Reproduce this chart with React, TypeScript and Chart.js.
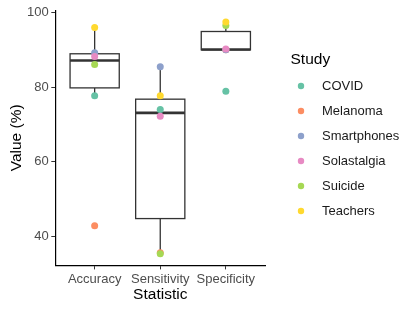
import React, { useEffect, useRef } from 'react';
import { Chart, registerables } from 'chart.js';

Chart.register(...registerables);

const FONT = '"Liberation Sans", Arial, Helvetica, sans-serif';

const categories = ['Accuracy', 'Sensitivity', 'Specificity'];
const studies = ['COVID', 'Melanoma', 'Smartphones', 'Solastalgia', 'Suicide', 'Teachers'];
// values per study, in the order of `categories`
const covid = [77.7, 74.0, 78.9];
const melanoma = [42.8, 35.6, 90.0];
const smartphones = [89.2, 85.5, 90.0];
const solastalgia = [88.2, 72.2, 90.2];
const suicide = [86.1, 35.3, 96.5];
const teachers = [96.0, 77.7, 97.5];
const studyValues = [covid, melanoma, smartphones, solastalgia, suicide, teachers];
const studyColors = ['#66C2A5', '#FC8D62', '#8DA0CB', '#E78AC3', '#A6D854', '#FFD92F'];
const yTicks = [40, 60, 80, 100];

function quantile(sorted: number[], p: number) {
  const h = (sorted.length - 1) * p;
  const lo = Math.floor(h);
  const hi = Math.ceil(h);
  return sorted[lo] + (h - lo) * (sorted[hi] - sorted[lo]);
}

function boxStats(vals: number[]) {
  const s = [...vals].sort((a, b) => a - b);
  const q1 = quantile(s, 0.25);
  const med = quantile(s, 0.5);
  const q3 = quantile(s, 0.75);
  const iqr = q3 - q1;
  const lo = Math.min(...s.filter((v) => v >= q1 - 1.5 * iqr));
  const hi = Math.max(...s.filter((v) => v <= q3 + 1.5 * iqr));
  return { q1, med, q3, lo, hi };
}

const allValues = studyValues.flat();
const dataMin = Math.min(...allValues);
const dataMax = Math.max(...allValues);
const yMin = dataMin - 0.05 * (dataMax - dataMin);
const yMax = dataMax + 0.05 * (dataMax - dataMin);

const boxPlugin = {
  id: 'boxplotPlugin',
  beforeDatasetsDraw(chart: any) {
    const { ctx, scales } = chart;
    const x = scales.x;
    const y = scales.y;
    const half = 0.375;
    categories.forEach((_, i) => {
      const st = boxStats(studyValues.map((s) => s[i]));
      const cx = x.getPixelForValue(i + 1);
      const xl = x.getPixelForValue(i + 1 - half);
      const xr = x.getPixelForValue(i + 1 + half);
      const yq1 = y.getPixelForValue(st.q1);
      const yq3 = y.getPixelForValue(st.q3);
      const ymed = y.getPixelForValue(st.med);
      const ylo = y.getPixelForValue(st.lo);
      const yhi = y.getPixelForValue(st.hi);
      ctx.save();
      ctx.strokeStyle = '#333333';
      ctx.lineWidth = 1.3;
      ctx.beginPath();
      ctx.moveTo(cx, yq3);
      ctx.lineTo(cx, yhi);
      ctx.moveTo(cx, yq1);
      ctx.lineTo(cx, ylo);
      ctx.stroke();
      ctx.fillStyle = '#ffffff';
      ctx.fillRect(xl, yq3, xr - xl, yq1 - yq3);
      ctx.strokeRect(xl, yq3, xr - xl, yq1 - yq3);
      ctx.lineWidth = 2.6;
      ctx.beginPath();
      ctx.moveTo(xl, ymed);
      ctx.lineTo(xr, ymed);
      ctx.stroke();
      ctx.restore();
    });
  },
};

function makeDot(color: string) {
  const c = document.createElement('canvas');
  c.width = 30;
  c.height = 10;
  const g = c.getContext('2d')!;
  g.fillStyle = color;
  g.beginPath();
  g.arc(7, 5, 3.2, 0, Math.PI * 2);
  g.fill();
  return c;
}

export default function App() {
  const ref = useRef<HTMLCanvasElement | null>(null);

  useEffect(() => {
    if (!ref.current) return;
    const dots = studyColors.map(makeDot);
    const datasets = studies.map((name, si) => ({
      label: name,
      data: categories.map((_, ci) => ({ x: ci + 1, y: studyValues[si][ci] })),
      backgroundColor: studyColors[si],
      borderColor: studyColors[si],
      borderWidth: 0,
      pointRadius: 3.5,
      pointHoverRadius: 3.5,
      order: studies.length - si,
    }));

    const tickFont = { family: FONT, size: 13 };
    const titleFont = { family: FONT, size: 15.5 };

    const chart = new Chart(ref.current, {
      type: 'scatter',
      data: { datasets },
      plugins: [boxPlugin],
      options: {
        animation: false,
        responsive: true,
        maintainAspectRatio: false,
        devicePixelRatio: 1,
        layout: { padding: { top: 8, right: 6, bottom: 0, left: 0 } },
        plugins: {
          tooltip: { enabled: false },
          legend: {
            position: 'right',
            align: 'start',
            maxWidth: 118.5,
            title: {
              display: true,
              text: 'Study',
              position: 'start',
              color: '#000000',
              font: { family: FONT, size: 15.5, lineHeight: 1 },
              padding: { top: 44, bottom: 0 },
            },
            labels: {
              usePointStyle: true,
              boxWidth: 13,
              boxHeight: 13,
              padding: 12,
              color: '#1A1A1A',
              font: tickFont,
              generateLabels: (ch: any) =>
                ch.data.datasets.map((ds: any, i: number) => ({
                  text: ds.label,
                  pointStyle: dots[i],
                  fillStyle: ds.backgroundColor,
                  strokeStyle: ds.backgroundColor,
                  fontColor: '#1A1A1A',
                  lineWidth: 0,
                  hidden: false,
                  datasetIndex: i,
                })),
            },
          },
        },
        scales: {
          x: {
            type: 'linear',
            min: 1 - 0.6,
            max: categories.length + 0.6,
            afterBuildTicks: (s: any) => {
              s.ticks = categories.map((_, i) => ({ value: i + 1 }));
            },
            afterFit: (s: any) => {
              s.height = 46.6;
            },
            ticks: {
              callback: (v: any) => categories[Math.round(Number(v)) - 1],
              color: '#4D4D4D',
              font: tickFont,
              padding: 2,
              maxRotation: 0,
              autoSkip: false,
            },
            grid: { display: true, drawOnChartArea: false, drawTicks: true, tickLength: 4, color: '#333333', lineWidth: 1 },
            border: { display: true, color: '#000000', width: 1.2 },
            title: {
              display: true,
              text: 'Statistic',
              color: '#000000',
              font: titleFont,
              padding: { top: 0, bottom: 7.5 },
            },
          },
          y: {
            type: 'linear',
            position: 'left',
            min: yMin,
            max: yMax,
            afterBuildTicks: (s: any) => {
              s.ticks = yTicks.map((v) => ({ value: v }));
            },
            afterFit: (s: any) => {
              s.width = 55.3;
            },
            ticks: { color: '#4D4D4D', font: tickFont, padding: 2.5 },
            grid: { display: true, drawOnChartArea: false, drawTicks: true, tickLength: 4, color: '#333333', lineWidth: 1 },
            border: { display: true, color: '#000000', width: 1.2 },
            title: {
              display: true,
              text: 'Value (%)',
              color: '#000000',
              font: titleFont,
              padding: { top: 7, bottom: 0 },
            },
          },
          gap: {
            type: 'linear',
            axis: 'y',
            position: 'right',
            display: true,
            grid: { display: false },
            border: { display: false },
            ticks: { display: false },
            afterFit: (s: any) => {
              s.width = 25.3;
            },
          },
        },
      } as any,
    });
    return () => chart.destroy();
  }, []);

  return (
    <div style={{ position: 'absolute', left: 0, top: 0, width: 415, height: 312 }}>
      <canvas ref={ref} />
    </div>
  );
}
